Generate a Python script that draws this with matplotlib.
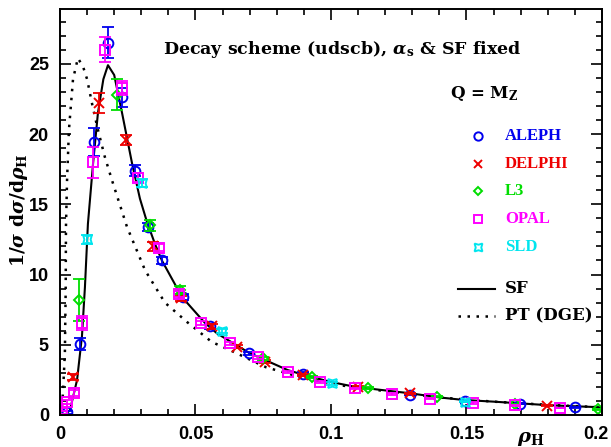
import numpy as np
import matplotlib.pyplot as plt
import matplotlib.transforms as mtransforms
from matplotlib.ticker import MultipleLocator

plt.rcParams['mathtext.fontset'] = 'dejavuserif'

# data
aleph_x = [0.0026, 0.0074, 0.0127, 0.0177, 0.0228, 0.0277, 0.0325, 0.0376, 0.0454,
           0.0553, 0.0697, 0.0897, 0.1292, 0.1494, 0.1697, 0.190]
aleph_y = [0.2, 5.05, 19.4, 26.5, 22.6, 17.4, 13.4, 11.0, 8.4, 6.3, 4.4, 2.95, 1.45, 1.0, 0.8, 0.55]
aleph_e = [0.1, 0.4, 1.0, 1.1, 0.7, 0.4, 0.3, 0.25, 0.2, 0.15, 0.1, 0.08, 0.05, 0.05, 0.04, 0.03]

delphi_x = [0.0048, 0.0144, 0.0243, 0.0343, 0.0447, 0.056, 0.0653, 0.0756, 0.0897, 0.110, 0.1292, 0.1797]
delphi_y = [2.7, 22.2, 19.6, 12.0, 8.3, 6.3, 4.85, 3.8, 2.85, 2.0, 1.55, 0.65]
delphi_e = [0.2, 0.7, 0.35, 0.3, 0.2, 0.15, 0.1, 0.1, 0.08, 0.05, 0.05, 0.03]

l3_x = [0.0070, 0.021, 0.0332, 0.0443, 0.0749, 0.093, 0.1137, 0.139, 0.168, 0.1985]
l3_y = [8.2, 22.8, 13.5, 8.9, 4.05, 2.7, 1.9, 1.3, 0.75, 0.4]
l3_e = [1.5, 1.1, 0.4, 0.3, 0.1, 0.08, 0.06, 0.05, 0.04, 0.03]

opal_x = [0.0007, 0.0026, 0.0052, 0.0081, 0.0122, 0.0166, 0.0228, 0.0288, 0.0365, 0.044, 0.052,
          0.0627, 0.0731, 0.0841, 0.096, 0.1089, 0.1225, 0.1365, 0.1524, 0.168, 0.1845]
opal_y = [0.4, 0.9, 1.55, 6.55, 18.0, 26.0, 23.3, 16.9, 11.9, 8.6, 6.55,
          5.1, 4.1, 3.05, 2.35, 1.9, 1.5, 1.15, 0.85, 0.7, 0.5]
opal_e = [0.1, 0.15, 0.2, 0.5, 1.1, 0.9, 0.5, 0.3, 0.25, 0.2, 0.15,
          0.1, 0.1, 0.08, 0.06, 0.05, 0.05, 0.04, 0.04, 0.03, 0.03]

sld_x = [0.010, 0.0302, 0.0598, 0.1003, 0.1494]
sld_y = [12.5, 16.5, 6.0, 2.25, 0.95]
sld_e = [0.3, 0.3, 0.15, 0.08, 0.05]

sf_x = [0.0018, 0.0037, 0.0063, 0.0081, 0.0092, 0.0103, 0.0122, 0.014, 0.016, 0.0177, 0.020,
        0.0229, 0.0266, 0.0295, 0.032, 0.035, 0.0376, 0.045, 0.0535, 0.058, 0.064, 0.070, 0.077,
        0.084, 0.09, 0.1, 0.109, 0.12, 0.129, 0.14, 0.149, 0.16, 0.168, 0.18, 0.19, 0.2]
sf_y = [0.0, 0.36, 2.5, 5.6, 9.1, 13.6, 17.9, 21.5, 23.9, 24.9, 24.2,
        21.5, 17.9, 15.4, 13.8, 12.2, 11.0, 8.4, 6.55, 5.8, 5.1, 4.4, 3.8,
        3.2, 2.85, 2.35, 2.0, 1.75, 1.55, 1.25, 1.07, 0.95, 0.85, 0.7, 0.62, 0.55]

pt_x = [0.0005, 0.0011, 0.0018, 0.0021, 0.0022, 0.0026, 0.0033, 0.0048, 0.0066, 0.0085, 0.010,
        0.012, 0.014, 0.0165, 0.0192, 0.0247, 0.0314, 0.0387, 0.047, 0.056, 0.064, 0.076,
        0.0886, 0.104, 0.12, 0.14, 0.16, 0.18, 0.2]
pt_y = [0.0, 1.6, 4.4, 9.0, 13.4, 16.7, 20.3, 23.9, 25.4, 24.8, 23.9,
        22.0, 20.3, 18.4, 16.7, 13.4, 10.3, 8.0, 6.6, 5.2, 4.5, 3.4,
        2.7, 2.1, 1.7, 1.25, 0.95, 0.72, 0.55]

serif = 'DejaVu Serif'
times = 'Liberation Serif'
dots = (0, (1, 2.6))

fig = plt.figure(figsize=(6.11, 4.47), dpi=100)
ax = fig.add_axes([0.0982, 0.0716, 0.887, 0.9083])

ax.plot(sf_x, sf_y, color='black', lw=1.5)
ax.plot(pt_x, pt_y, color='black', lw=1.8, ls=dots)

sets = [
    (aleph_x, aleph_y, aleph_e, 'o', '#0000ee', 'ALEPH', 7),
    (delphi_x, delphi_y, delphi_e, 'x', '#ee0000', 'DELPHI', 7),
    (l3_x, l3_y, l3_e, 'D', '#00dd00', 'L3', 5),
    (opal_x, opal_y, opal_e, 's', '#ff00ff', 'OPAL', 7),
    (sld_x, sld_y, sld_e, (4, 1, 45), '#00e5ee', 'SLD', 9),
]
for x, y, e, m, c, name, ms in sets:
    ax.errorbar(x, y, yerr=e, fmt='none', ecolor=c, elinewidth=1.3, capsize=4, capthick=1.3)
    ax.plot(x, y, marker=m, ls='none', mfc='none', mec=c, ms=ms, mew=1.4)

ax.set_xlim(0, 0.2)
ax.set_ylim(0, 28.9)
ax.xaxis.set_minor_locator(MultipleLocator(0.01))
ax.yaxis.set_major_locator(MultipleLocator(5))
ax.yaxis.set_minor_locator(MultipleLocator(1))
ax.tick_params(which='both', direction='in', top=True, right=True, width=1.2)
ax.tick_params(which='major', length=8, labelsize=13, pad=8)
ax.tick_params(which='minor', length=4)
ax.set_xticks([0, 0.05, 0.1, 0.15, 0.2])
ax.set_xticklabels(['0', '0.05', '0.1', '0.15', '0.2'])
for lab in ax.get_xticklabels() + ax.get_yticklabels():
    lab.set_fontfamily('Liberation Sans')
    lab.set_fontweight('bold')
# last x label sits a little left of its tick, as in the original
last = ax.get_xticklabels()[-1]
last.set_transform(last.get_transform() + mtransforms.ScaledTranslation(-6 / 100, 0, fig.dpi_scale_trans))
for s in ax.spines.values():
    s.set_linewidth(1.4)

ax.set_ylabel(r'1/$\boldsymbol{\sigma}$ d$\boldsymbol{\sigma}$/d$\boldsymbol{\rho}_{\mathbf{H}}$',
              family=serif, weight='bold', fontsize=13.5)
ax.yaxis.set_label_coords(-0.056, 0.505)
fig.text(0.868, 0.012, r'$\boldsymbol{\rho}_{\mathbf{H}}$', fontsize=14, ha='center')

ax.text(0.038, 26.0, r'Decay scheme (udscb), $\boldsymbol{\alpha}_{\mathbf{s}}$ & SF fixed', family=serif,
        weight='bold', fontsize=12.5, va='center')
ax.text(0.144, 22.9, r'Q = M$_{\mathbf{Z}}$', family=serif, weight='bold', fontsize=12, va='center')

leg_y = [19.87, 17.88, 15.95, 13.96, 11.97]
for (x, y, e, m, c, name, ms), ly in zip(sets, leg_y):
    ax.plot([0.1542], [ly], marker=m, mfc='none', mec=c, ms=ms - 1, mew=1.4, ls='none')
    ax.text(0.1642, ly, name, color=c, family=times, weight='bold', fontsize=12, va='center')

ax.plot([0.147, 0.1605], [8.97, 8.97], color='black', lw=1.5)
ax.text(0.1642, 8.97, 'SF', family=serif, weight='bold', fontsize=12, va='center')
ax.plot([0.147, 0.1605], [7.05, 7.05], color='black', lw=1.8, ls=dots)
ax.text(0.1642, 7.05, 'PT (DGE)', family=serif, weight='bold', fontsize=12, va='center')

fig.savefig('out.png', dpi=100)
